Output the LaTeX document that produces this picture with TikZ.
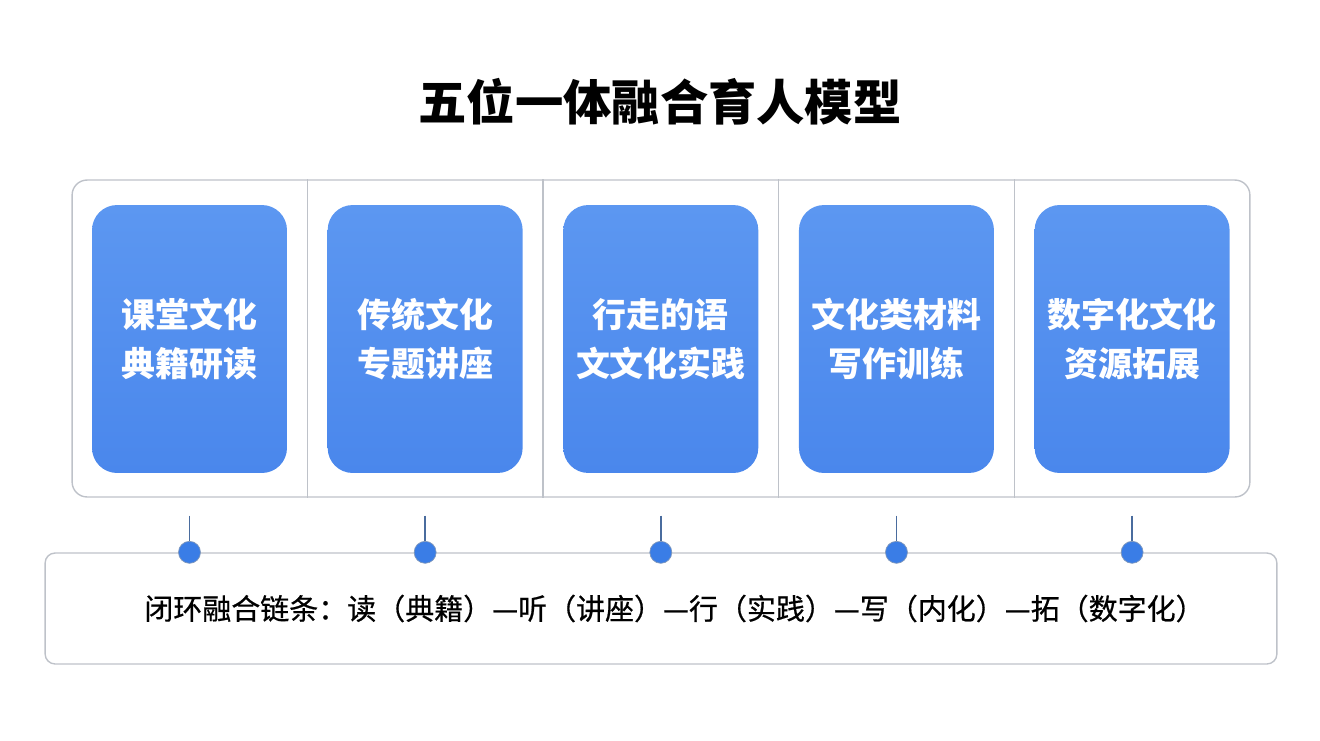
\documentclass[tikz,border=0pt]{standalone}
\usepackage{fontspec}
\setmainfont{Noto Sans CJK SC}
\newfontfamily\chainfont{Noto Sans CJK SC}[FakeBold=0.6]
\usetikzlibrary{positioning, calc}
\definecolor{boxblue}{HTML}{4A87EC}
\definecolor{boxbluelight}{HTML}{5C97F1}
\definecolor{framegray}{HTML}{BEC2C9}
\definecolor{stemblue}{HTML}{4A6C9E}
\definecolor{dotblue}{HTML}{3A7DE6}

\begin{document}
\begin{tikzpicture}[x=0.02cm, y=-0.02cm,
  module/.style={rectangle, rounded corners=0.5cm, top color=boxbluelight, bottom color=boxblue,
                 minimum width=3.9cm, minimum height=5.36cm, inner sep=0pt, text=white,
                 align=center, font=\bfseries\fontsize{19.3}{27.9}\selectfont},
  panelbox/.style={draw=framegray, line width=0.8pt, rounded corners=0.3cm,
                   minimum width=23.56cm, minimum height=6.34cm},
  divider/.style={draw=framegray, line width=0.8pt},
  stem/.style={draw=stemblue, line width=1.1pt},
  dot/.style={circle, fill=dotblue, draw=stemblue!70, line width=0.4pt,
              minimum size=0.44cm, inner sep=0pt},
  chainbox/.style={draw=framegray, line width=0.8pt, rounded corners=0.2cm,
                   minimum width=24.64cm, minimum height=2.22cm,
                   font=\chainfont\fontsize{16.5}{20}\selectfont},
  heading/.style={font=\bfseries\fontsize{27.5}{33}\selectfont}
]
\useasboundingbox (0,0) rectangle (1320,741);

\node[heading] (title) at (660,102) {五位一体融合育人模型};

% outer panel and the five modules
\node[panelbox] (panel) at (661,338.5) {};
\node[module] (m1) at (189.5,339) {课堂文化\\典籍研读};
\foreach \i/\j/\txt in {2/1/{传统文化\\专题讲座}, 3/2/{行走的语\\文文化实践},
                        4/3/{文化类材料\\写作训练}, 5/4/{数字化文化\\资源拓展}}
  \node[module, right=0.8cm of m\j] (m\i) {\txt};

\foreach \i/\j in {1/2, 2/3, 3/4, 4/5} {
  \coordinate (g\i) at ($(m\i.east)!0.5!(m\j.west)$);
  \draw[divider] (g\i |- panel.north) -- (g\i |- panel.south);
}

% closed loop chain
\node[chainbox] (loop) at (661,608.5)
  {\hspace{0.54cm}闭环融合链条：读（典籍）—听（讲座）—行（实践）—写（内化）—拓（数字化）};

\foreach \i in {1,...,5} {
  \coordinate (s\i) at ($(m\i |- panel.south)+(0,18)$);
  \node[dot] (d\i) at (m\i |- loop.north) {};
  \draw[stem] (s\i) -- (d\i);
}
\end{tikzpicture}
\end{document}
